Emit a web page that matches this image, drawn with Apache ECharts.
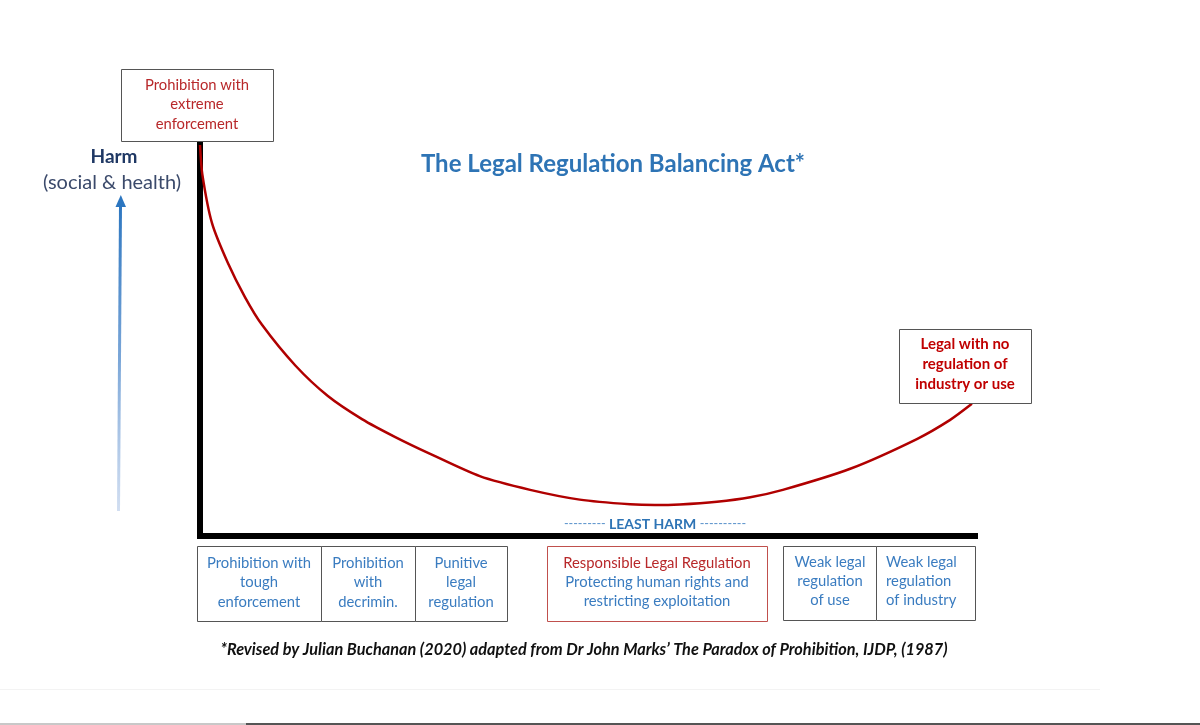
<!DOCTYPE html>
<html>
<head>
<meta charset="utf-8">
<script src="https://cdn.jsdelivr.net/npm/echarts@6/dist/echarts.min.js"></script>
<style>
html,body{margin:0;padding:0;background:#fff;}
#chart{width:1200px;height:725px;}
</style>
</head>
<body>
<div id="chart"></div>
<script>
// ---- data ----
const harmX = [0, 0.3, 1.55, 3.6, 5.8, 8.0, 12.3, 16.5, 20.9, 25.2, 29.7, 36.1, 42.6, 49.0, 55.5, 58.7, 61.9, 66.7, 71.0, 75.2, 83.9, 92.5, 96.8, 99.6];
const harmY = [100, 92.5, 80.0, 69.8, 61.1, 54.0, 43.6, 35.8, 29.9, 25.3, 21.0, 15.3, 11.8, 9.3, 8.1, 7.9, 8.05, 8.75, 9.9, 11.8, 17.2, 24.8, 29.7, 33.8];
const titleText = 'The Legal Regulation Balancing Act*';
const yLabelMain = 'Harm';
const yLabelSub = '(social & health)';
const topBoxLines = ['Prohibition with', 'extreme', 'enforcement'];
const rightBoxLines = ['Legal with no', 'regulation of', 'industry or use'];
const leastHarmDashesL = '---------';
const leastHarmText = 'LEAST HARM';
const leastHarmDashesR = '----------';
const leftGroupLabels = [['Prohibition with', 'tough', 'enforcement'], ['Prohibition', 'with', 'decrimin.'], ['Punitive', 'legal', 'regulation']];
const middleLabelTitle = 'Responsible Legal Regulation';
const middleLabelLines = ['Protecting human rights and', 'restricting exploitation'];
const rightGroupLabels = [['Weak legal', 'regulation', 'of use'], ['Weak legal', 'regulation', 'of industry']];
const footnote = '*Revised by Julian Buchanan (2020) adapted from Dr John Marks\u2019 The Paradox of Prohibition, IJDP, (1987)';

// ---- styles ----
const FONT = 'Lato, "Noto Sans", sans-serif';
const BLUE = '#2e74b5';
const BOXBLUE = '#3a7cc0';
const RED = '#b8282a';
const DARKRED = '#c00000';
const BOXFS = 14.8;

const chart = echarts.init(document.getElementById('chart'), null, {renderer: 'canvas'});

function txt(x, y, text, fill, size, weight, align, style) {
  return {
    type: 'text', x: x, y: y, z: 10,
    style: {
      text: text, fill: fill,
      font: (style || 'normal') + ' ' + (weight || 'normal') + ' ' + size + 'px ' + FONT,
      textAlign: align || 'center', textVerticalAlign: 'middle'
    }
  };
}
function box(x, y, w, h, stroke) {
  return {
    type: 'rect', z: 9,
    shape: {x: x + 0.5, y: y + 0.5, width: w, height: h},
    style: {fill: '#fff', stroke: stroke || '#555', lineWidth: 1}
  };
}
function lines(cx, ys, arr, fill, size, weight, align) {
  return arr.map((t, i) => txt(cx, ys[i], t, fill, size, weight, align));
}

const graphics = [];
// title
graphics.push(txt(613, 164, titleText, BLUE, 24, 'bold'));
// y label
graphics.push(txt(114, 157, yLabelMain, '#1f3864', 19, 'bold'));
graphics.push(txt(112, 183, yLabelSub, '#3b4a6b', 20, 'normal'));
// arrow
graphics.push({
  type: 'line', z: 5,
  shape: {x1: 118.5, y1: 511, x2: 120.5, y2: 205},
  style: {
    lineWidth: 3,
    stroke: new echarts.graphic.LinearGradient(0, 1, 0, 0, [
      {offset: 0, color: 'rgba(200,215,238,0.8)'},
      {offset: 0.5, color: '#7aa6d8'},
      {offset: 1, color: '#2c76c0'}
    ])
  }
});
graphics.push({
  type: 'polygon', z: 5,
  shape: {points: [[120.8, 195], [115.5, 207], [126, 207]]},
  style: {fill: '#2c76c0'}
});
// top box
graphics.push(box(121, 69, 152, 72));
graphics.push(...lines(197, [85, 104, 124], topBoxLines, RED, BOXFS));
// right box
graphics.push(box(899, 329, 132, 74));
graphics.push(...lines(965, [344, 364, 384], rightBoxLines, DARKRED, 15, 'bold'));
// least harm
graphics.push({
  type: 'text', x: 655, y: 524, z: 10,
  style: {
    text: '{d|' + leastHarmDashesL + '} {b|' + leastHarmText + '} {d|' + leastHarmDashesR + '}',
    textAlign: 'center', textVerticalAlign: 'middle',
    rich: {
      d: {fill: '#5b93cc', font: 'normal 12.5px ' + FONT},
      b: {fill: BLUE, font: 'bold 14px ' + FONT}
    }
  }
});
// left group boxes
const leftEdges = [197, 321, 415, 507];
for (let i = 0; i < leftGroupLabels.length; i++) {
  graphics.push(box(leftEdges[i], 546, leftEdges[i + 1] - leftEdges[i], 75));
  graphics.push(...lines((leftEdges[i] + leftEdges[i + 1]) / 2, [563, 582, 602], leftGroupLabels[i], BOXBLUE, BOXFS));
}
// middle box
graphics.push(box(547, 546, 220, 75, '#c0504d'));
graphics.push(txt(657, 563, middleLabelTitle, RED, BOXFS));
graphics.push(...lines(657, [582, 601], middleLabelLines, BOXBLUE, BOXFS));
// right group
graphics.push(box(783, 546, 93, 74));
graphics.push(...lines(830, [562, 581, 600], rightGroupLabels[0], BOXBLUE, BOXFS));
graphics.push(box(876, 546, 99, 74));
graphics.push(...lines(886, [562, 581, 600], rightGroupLabels[1], BOXBLUE, BOXFS, 'normal', 'left'));
// footnote
graphics.push(txt(584, 650, footnote, '#111', 16.3, 'bold', 'center', 'italic'));
// bottom strip
graphics.push({type: 'rect', z: 1, shape: {x: 0, y: 689, width: 1100, height: 1}, style: {fill: '#f3f3f3'}});
graphics.push({type: 'rect', z: 1, shape: {x: 0, y: 723, width: 246, height: 2}, style: {fill: '#c8c8c8'}});
graphics.push({type: 'rect', z: 1, shape: {x: 246, y: 723, width: 954, height: 2}, style: {fill: '#555'}});

const axisCommon = {
  type: 'value', min: 0, max: 100,
  axisLine: {show: true, lineStyle: {color: '#000', width: 6, cap: 'square'}},
  axisTick: {show: false}, axisLabel: {show: false}, splitLine: {show: false}
};

chart.setOption({
  animation: false,
  backgroundColor: '#fff',
  grid: {left: 200, right: 225, top: 145, bottom: 189, containLabel: false},
  xAxis: Object.assign({}, axisCommon),
  yAxis: Object.assign({}, axisCommon),
  series: [{
    type: 'line',
    data: harmX.map((x, i) => [x, harmY[i]]),
    smooth: 0.25,
    showSymbol: false,
    clip: false,
    z: 5,
    lineStyle: {color: '#b00000', width: 2.5}
  }],
  graphic: graphics
});
</script>
</body>
</html>
